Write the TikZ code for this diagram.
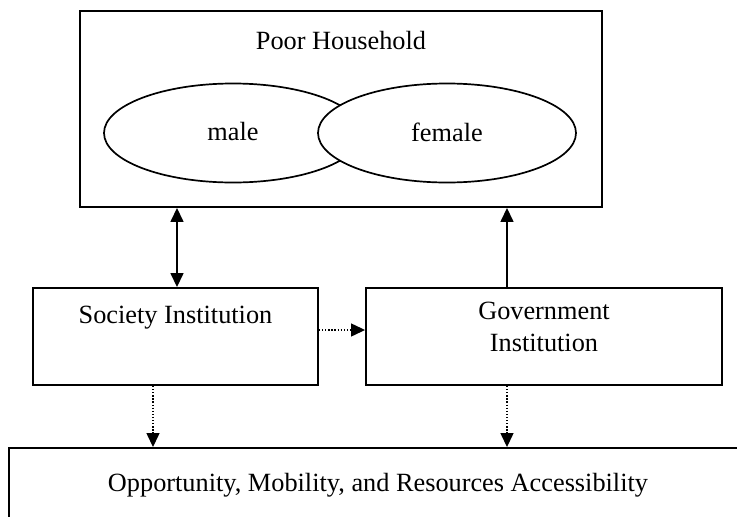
\documentclass[tikz,border=0pt]{standalone}
\usepackage{fontspec}
\setmainfont{Liberation Serif}
\usetikzlibrary{arrows.meta,shapes.geometric}
\begin{document}
\begin{tikzpicture}[x=1pt,y=-1pt,
  box/.style={draw, line width=1.9pt, rectangle, inner sep=0pt},
  oval/.style={draw, line width=1.7pt, ellipse, inner sep=0pt},
  lbl/.style={font=\fontsize{26.3}{32}\selectfont, inner sep=0pt, align=center},
  arr/.style={line width=1.5pt, -{Triangle[length=14pt,width=13pt]}},
  darr/.style={line width=1.5pt, {Triangle[length=14pt,width=13pt]}-{Triangle[length=14pt,width=13pt]}},
  dotarr/.style={line width=1.3pt, dash pattern=on 1.3pt off 1.8pt, -{Triangle[length=14pt,width=13pt]}}
]
\useasboundingbox (0,0) rectangle (737,517);
\clip (0,0) rectangle (737,517);
\fill[white] (0,0) rectangle (737,517);

% Poor household
\node[box, minimum width=522pt, minimum height=196pt] (hh) at (341,109) {};
\node[lbl] (hht) at (341,41) {Poor Household};
\node[oval, minimum width=258pt, minimum height=99pt] (male) at (233,133) {};
\node[oval, fill=white, minimum width=258pt, minimum height=99pt] (female) at (447,133) {};
\node[lbl] (malet) at (233,132) {male};
\node[lbl] (femalet) at (447,132) {female};

% Institutions
\node[box, minimum width=285pt, minimum height=97pt] (soc) at (175.5,336.5) {};
\node[lbl] (soct) at (175.5,318) {Society Institution};
\node[box, minimum width=356pt, minimum height=97pt] (gov) at (544,336.5) {};
\node[lbl] (govt) at (544,327) {Government\\Institution};

% Bottom box (cut off)
\node[box, minimum width=771pt, minimum height=120pt] (opp) at (394.5,508) {};
\node[lbl] (oppt) at (378,485) {Opportunity, Mobility, and Resources Accessibility};

% connector x positions
\coordinate (xl) at (177,0);
\coordinate (xr) at (507,0);
\coordinate (xd) at (153,0);
\coordinate (yh) at (0,330);

\draw[darr] (xl |- soc.north) -- (xl |- hh.south);
\draw[arr] (xr |- gov.north) -- (xr |- hh.south);
\draw[dotarr] (soc.east |- yh) -- (gov.west |- yh);
\draw[dotarr] (xd |- soc.south) -- (xd |- opp.north);
\draw[dotarr] (xr |- gov.south) -- (xr |- opp.north);
\end{tikzpicture}
\end{document}
